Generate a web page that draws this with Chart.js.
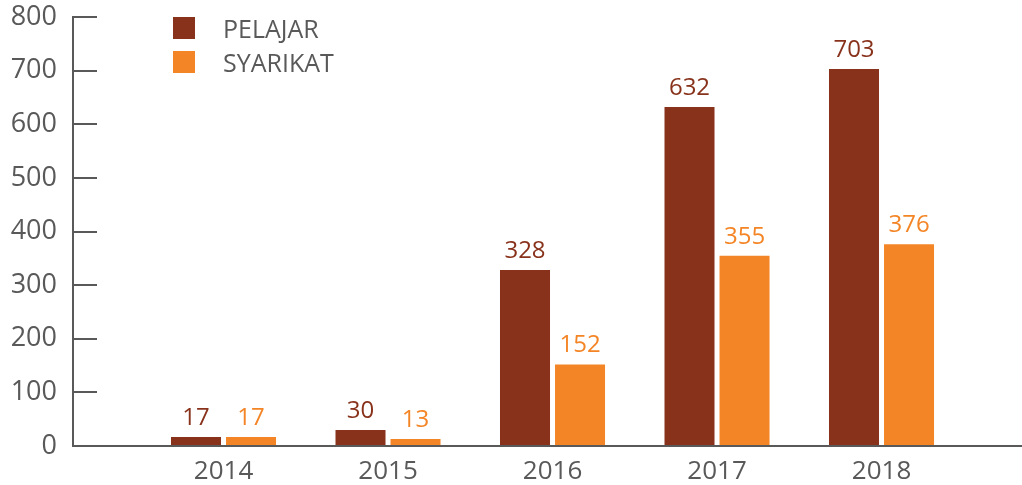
<!DOCTYPE html>
<html>
<head>
<meta charset="utf-8">
<script src="https://cdn.jsdelivr.net/npm/chart.js@4/dist/chart.umd.min.js"></script>
<style>
  html, body { margin: 0; padding: 0; background: #fff; }
  #wrap { position: relative; width: 1022px; height: 485px; }
  #legend { position: absolute; left: 173px; top: 17px; font-family: "Open Sans", sans-serif; font-size: 25px; color: #595959; }
  .item { display: flex; align-items: center; height: 22px; margin-bottom: 12px; }
  .box { width: 22px; height: 22px; margin-right: 28px; }
</style>
</head>
<body>
<div id="wrap">
  <canvas id="myChart" width="1022" height="485"></canvas>
  <div id="legend"></div>
</div>
<script>
const years = ['2014', '2015', '2016', '2017', '2018'];
const pelajar = [17, 30, 328, 632, 703];
const syarikat = [17, 13, 152, 355, 376];
const yTicks = [0, 100, 200, 300, 400, 500, 600, 700, 800];

const brown = '#88321c';
const orange = '#f48526';
const grey = '#595959';

function toPoints(values) {
    return years.map((y, i) => ({ x: Number(y), y: values[i] }));
}

const datasets = [
    { label: 'PELAJAR', data: toPoints(pelajar), backgroundColor: brown },
    { label: 'SYARIKAT', data: toPoints(syarikat), backgroundColor: orange }
];

// labels above each bar
const valueLabels = {
    id: 'valueLabels',
    afterDatasetsDraw(chart) {
        const ctx = chart.ctx;
        ctx.save();
        ctx.font = '24px "Open Sans", sans-serif';
        ctx.textAlign = 'center';
        ctx.textBaseline = 'alphabetic';
        chart.data.datasets.forEach((ds, di) => {
            ctx.fillStyle = ds.backgroundColor;
            chart.getDatasetMeta(di).data.forEach((bar, i) => {
                ctx.fillText(String(ds.data[i].y), bar.x, bar.y - 12);
            });
        });
        ctx.restore();
    }
};

const chart = new Chart(document.getElementById('myChart').getContext('2d'), {
    type: 'bar',
    data: { datasets: datasets },
    options: {
        responsive: false,
        animation: false,
        categoryPercentage: 0.669,
        barPercentage: 0.909,
        layout: { padding: { top: 17, right: 0, left: 0, bottom: 0 } },
        plugins: { legend: { display: false }, tooltip: { enabled: false } },
        scales: {
            x: {
                type: 'linear',
                offset: false,
                min: 2013.085,
                max: 2018.854,
                grid: { display: false, drawTicks: false, offset: false },
                border: { display: true, color: grey, width: 2 },
                afterBuildTicks: scale => {
                    scale.ticks = years.map(y => ({ value: Number(y) }));
                },
                afterFit: scale => {
                    scale.height = 39;
                    scale.paddingLeft = 0;
                    scale.paddingRight = 0;
                },
                ticks: {
                    padding: 10,
                    color: grey,
                    font: { family: '"Open Sans", sans-serif', size: 26 },
                    callback: v => String(v)
                }
            },
            y: {
                min: 0,
                max: 800,
                afterBuildTicks: scale => {
                    scale.ticks = yTicks.map(v => ({ value: v }));
                },
                afterFit: scale => {
                    scale.width = 73;
                    scale.paddingTop = 0;
                    scale.paddingBottom = 0;
                },
                grid: { drawOnChartArea: false, drawTicks: true, tickLength: -24, color: grey, lineWidth: 2 },
                border: { display: true, color: grey, width: 2 },
                ticks: {
                    padding: 40,
                    color: grey,
                    font: { family: '"Open Sans", sans-serif', size: 27 }
                }
            }
        }
    },
    plugins: [valueLabels]
});

// legend from the datasets
const legend = document.getElementById('legend');
datasets.forEach(ds => {
    const item = document.createElement('div');
    item.className = 'item';
    item.innerHTML = '<span class="box" style="background:' + ds.backgroundColor + '"></span><span>' + ds.label + '</span>';
    legend.appendChild(item);
});
</script>
</body>
</html>
